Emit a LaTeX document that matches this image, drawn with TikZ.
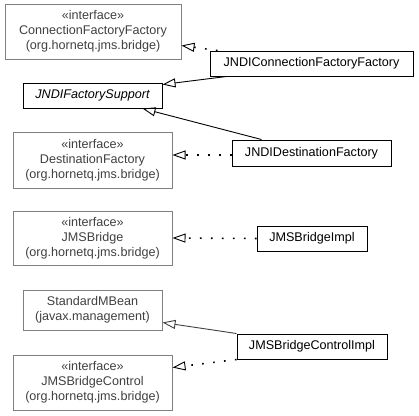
\documentclass[tikz,border=0pt]{standalone}
\usepackage{fontspec}
\setmainfont{Liberation Sans}
\usepackage{tikz}
\usetikzlibrary{shapes,arrows.meta,positioning,calc}

\definecolor{extline}{HTML}{808080}
\definecolor{exttext}{HTML}{404040}

\begin{document}
\begin{tikzpicture}[
    x=1pt, y=-1pt,
    font=\fontsize{12.6}{15}\selectfont,
    ext/.style={rectangle, draw=extline, text=exttext, align=center, inner sep=0pt, line width=1pt},
    cls/.style={rectangle, draw, align=center, inner sep=0pt, line width=1pt},
    inherit/.style={draw, line width=0.9pt, -{Triangle[open, length=13pt, width=9pt]}},
    impl/.style={draw, line width=1.6pt, dash pattern=on 1.6pt off 9.4pt, -{Triangle[open, length=13pt, width=9pt, line width=0.9pt]}}
]
    \useasboundingbox (0,0) rectangle (419,415);

    \node [ext, minimum width=176pt, minimum height=55pt] (cff) at (93,31.5) {«interface»\\ConnectionFactoryFactory\\(org.hornetq.jms.bridge)};
    \node [cls, minimum width=203pt, minimum height=25pt] (jcff) at (311.5,63.5) {JNDIConnectionFactoryFactory};
    \node [cls, minimum width=139pt, minimum height=25pt] (jfs) at (92.5,95.5) {\itshape JNDIFactorySupport};
    \node [ext, minimum width=159pt, minimum height=56pt] (df) at (92.5,160) {«interface»\\DestinationFactory\\(org.hornetq.jms.bridge)};
    \node [cls, minimum width=159pt, minimum height=26pt] (jdf) at (311.5,153) {JNDIDestinationFactory};
    \node [ext, minimum width=159pt, minimum height=54pt] (jb) at (92.5,238) {«interface»\\JMSBridge\\(org.hornetq.jms.bridge)};
    \node [cls, minimum width=110pt, minimum height=25pt] (jbi) at (312,238.5) {JMSBridgeImpl};
    \node [ext, minimum width=139pt, minimum height=40pt] (smb) at (92.5,310) {StandardMBean\\(javax.management)};
    \node [cls, minimum width=150pt, minimum height=25pt] (jbci) at (312,346.5) {JMSBridgeControlImpl};
    \node [ext, minimum width=159pt, minimum height=55pt] (jbc) at (92.5,382.5) {«interface»\\JMSBridgeControl\\(org.hornetq.jms.bridge)};

    \path [impl] ($(jcff.north west)+(8,0)$) -- ($(cff.south east)+(0,-14)$);
    \path [inherit] ($(jcff.south west)+(17,0)$) -- ($(jfs.north east)+(0,2)$);
    \path [inherit] ($(jdf.north west)+(30,0)$) -- ($(jfs.south east)+(-20,0)$);
    \path [impl] ($(jdf.west)+(0,2)$) -- ($(df.east |- jdf.west)+(0,2)$);
    \path [impl] (jbi.west) -- (jb.east);
    \path [inherit, draw=exttext] (jbci.north west) -- ($(smb.south east)+(0,-8)$);
    \path [impl] (jbci.south west) -- ($(jbc.north east)+(0,13)$);
\end{tikzpicture}
\end{document}
